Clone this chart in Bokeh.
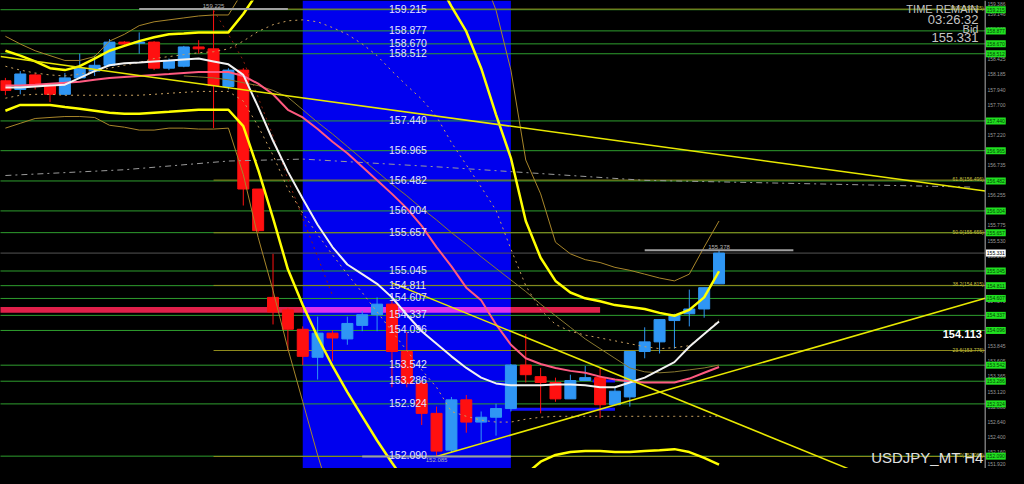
from bokeh.plotting import figure
from bokeh.models import Range1d, BoxAnnotation, Span
from bokeh.embed import file_html
from bokeh.resources import INLINE
from bokeh.core.properties import value

nan = float("nan")

# ---------------- data ----------------
bars = list(range(49))
opens = [158.081, 157.942, 158.174, 158.004, 157.865, 158.127, 158.235, 158.328, 158.698, 158.680,
         158.698, 158.282, 158.313, 158.621, 158.590, 157.989, 158.251, 156.353, 154.624, 154.424,
         154.115, 153.668, 154.053, 153.961, 154.177, 154.347, 154.516, 153.760, 153.251, 152.773,
         152.186, 152.989, 152.634, 152.711, 152.850, 153.544, 153.359, 153.266, 153.004, 153.297,
         153.343, 152.911, 153.035, 153.760, 153.914, 154.254, 154.362, 154.439, 154.840]
highs = [158.127, 158.235, 158.205, 158.035, 158.205, 158.513, 158.482, 158.745, 158.714, 158.853,
         158.714, 158.436, 158.637, 158.729, 159.225, 158.282, 158.282, 156.353, 155.319, 154.455,
         154.161, 154.316, 154.100, 154.316, 154.408, 154.624, 154.578, 154.069, 153.297, 152.881,
         153.035, 153.066, 152.803, 152.927, 153.560, 154.038, 153.498, 153.343, 153.390, 153.529,
         153.498, 153.189, 153.760, 154.146, 154.269, 154.362, 154.748, 154.779, 155.378]
lows = [157.850, 157.865, 157.942, 157.742, 157.850, 158.112, 158.158, 158.313, 158.652, 158.513,
        158.251, 158.251, 158.297, 158.513, 157.325, 157.942, 156.090, 155.658, 154.192, 153.776,
        153.544, 153.313, 153.606, 153.868, 154.084, 154.084, 153.189, 153.189, 152.587, 152.085,
        152.150, 152.464, 152.310, 152.418, 152.803, 153.266, 152.773, 152.958, 153.004, 153.297,
        152.695, 152.911, 152.881, 153.652, 153.729, 153.806, 154.161, 154.300, 154.840]
closes = [157.927, 158.189, 157.989, 157.865, 158.127, 158.282, 158.328, 158.698, 158.668, 158.698,
          158.282, 158.405, 158.621, 158.590, 158.004, 158.251, 156.353, 155.689, 154.393, 154.115,
          153.683, 154.053, 153.976, 154.208, 154.347, 154.516, 153.760, 153.251, 152.773, 152.171,
          152.989, 152.634, 152.711, 152.850, 153.544, 153.390, 153.266, 153.004, 153.297, 153.343,
          152.911, 153.127, 153.760, 153.914, 154.269, 154.347, 154.439, 154.779, 155.331]

bb_upper2 = [158.560, 158.482, 158.390, 158.282, 158.251, 158.313, 158.436, 158.560, 158.637, 158.714,
             158.776, 158.822, 158.837, 158.853, 158.853, 158.853, 159.146, 159.500] + [nan] * 11 + \
            [159.700, 159.269, 158.868, 158.282, 157.541, 156.847, 155.843, 155.257, 154.887, 154.702,
             154.609, 154.563, 154.501, 154.470, 154.439, 154.377, 154.331, 154.424, 154.624, 155.041]
bb_lower2 = [157.603, 157.695, 157.695, 157.695, 157.664, 157.634, 157.603, 157.572, 157.556, 157.556,
             157.572, 157.587, 157.603, 157.618, 157.618, 157.618, 157.356, 156.661, 155.890, 155.072,
             154.501, 153.992, 153.529, 153.112, 152.726, 152.340, 151.985, 151.646] + [nan] * 6 + \
            [151.492, 151.800, 152.001, 152.109, 152.155, 152.171, 152.171, 152.155, 152.155, 152.171,
             152.186, 152.202, 152.155, 152.063, 151.955]
bb_upper3 = [158.791, 158.668, 158.560, 158.482, 158.405, 158.405, 158.467, 158.714, 158.822, 158.961,
             159.022, 159.053, 159.084, 159.115, 159.131, 159.131, 159.516] + [nan] * 15 + \
            [159.825, 159.208, 158.251, 156.816, 156.276, 155.504, 155.319, 155.226, 155.180, 155.103,
             155.056, 154.995, 154.933, 154.887, 154.995, 155.427, 155.843]
bb_lower3 = [157.325, 157.402, 157.479, 157.495, 157.510, 157.510, 157.495, 157.371, 157.340, 157.294,
             157.294, 157.325, 157.325, 157.310, 157.310, 157.325, 156.584, 155.581, 154.732, 153.806,
             152.958, 152.109, 151.337] + [nan] * 26
bb_mid = [158.004, 158.004, 158.019, 158.035, 158.050, 158.066, 158.097, 158.127, 158.143, 158.158,
          158.174, 158.189, 158.205, 158.220, 158.220, 158.220, 158.158, 158.035, 157.865, 157.618,
          157.495, 157.310, 157.109, 156.924, 156.708, 156.492, 156.276, 156.044, 155.766, 155.427,
          155.118, 154.779, 154.578, 154.192, 153.868, 153.652, 153.560, 153.498, 153.451, 153.421,
          153.359, 153.313, 153.282, 153.266, 153.266, 153.266, 153.328, 153.421, 153.513]
bb_upper1 = [158.313, 158.251, 158.205, 158.174, 158.158, 158.189, 158.235, 158.282, 158.328, 158.374,
             158.436, 158.467, 158.498, 158.529, 158.544, 158.590, 158.714, 158.868, 158.976, 159.038,
             159.053, 159.022, 158.930, 158.822, 158.668, 158.482, 158.235, 158.004, 157.788, 157.510,
             157.094, 156.739, 156.384, 156.013, 155.396, 154.810, 154.424, 154.192, 154.084, 154.022,
             153.976, 153.930, 153.884, 153.837, 153.806, 153.822, 153.853, 154.038, 154.269]
bb_lower1 = [157.803, 157.850, 157.865, 157.865, 157.850, 157.850, 157.850, 157.850, 157.850, 157.850,
             157.865, 157.881, 157.896, 157.911, 157.911, 157.911, 157.757, 157.356, 156.893, 156.353,
             155.967, 155.627, 155.303, 154.995, 154.701, 154.393, 154.084, 153.776, 153.467, 153.189,
             152.803, 152.726, 152.665, 152.634, 152.634, 152.680, 152.711, 152.726, 152.726, 152.726,
             152.726, 152.726, 152.726, 152.726, 152.726, 152.726, 152.726, 152.726, 152.726]
ma_fast = [157.973, 157.973, 157.989, 158.004, 158.019, 158.127, 158.235, 158.328, 158.359, 158.374,
           158.390, 158.405, 158.421, 158.436, 158.390, 158.343, 158.174, 157.664, 157.124, 156.631,
           156.198, 155.782, 155.427, 155.149, 154.995, 154.840, 154.624, 154.347, 154.084, 153.884,
           153.683, 153.498, 153.343, 153.251, 153.220, 153.220, 153.220, 153.235, 153.235, 153.220,
           153.189, 153.189, 153.266, 153.343, 153.467, 153.590, 153.837, 154.038, 154.239]
ma_slow = [nan] * 12 + \
          [158.158, 158.143, 158.127, 158.097, 158.050, 158.004, 157.927, 157.819,
           157.618, 157.418, 157.232, 157.032, 156.831, 156.631, 156.430, 156.245, 156.044, 155.859,
           155.658, 155.473, 155.272, 155.087, 154.902, 154.717, 154.516, 154.331, 154.146, 153.961,
           153.806, 153.652, 153.498, 153.436, 153.420, 153.436, 153.467, 153.498, 153.544]
red_x = [14, 15, 16, 17, 18, 19, 20, 21, 22]
red_y = [159.208, 158.822, 158.405, 157.819, 157.202, 156.507, 155.890, 155.272, 154.655]
long_ma_x = [0, 8, 15, 20, 29, 34, 43, 65]
long_ma_y = [156.569, 156.661, 156.800, 156.831, 156.708, 156.631, 156.492, 156.384]

trend1_x = [-0.33, 65.9]
trend1_y = [158.467, 156.322]
trend2_x = [26, 60]
trend2_y = [154.856, 151.569]
trend3_x = [29, 65.9]
trend3_y = [152.085, 154.609]

levels = [159.215, 158.877, 158.670, 158.512, 157.440, 156.965, 156.482, 156.004, 155.657,
          155.045, 154.811, 154.607, 154.337, 154.096, 153.542, 153.286, 152.924, 152.090]
fib_pct = ["100.0", "61.8", "50.0", "38.2", "23.6", "0.0"]
fib_val = [159.225, 156.496, 155.655, 154.815, 153.776, 152.085]
scale_ticks = [159.386, 159.146, 158.905, 158.665, 158.425, 158.185, 157.940, 157.700, 157.460,
               157.220, 156.980, 156.735, 156.495, 156.255, 156.015, 155.775, 155.530, 155.290,
               155.050, 154.810, 154.570, 154.330, 154.085, 153.845, 153.605, 153.365, 153.120,
               152.880, 152.640, 152.400, 152.160, 151.920]

zone_start, zone_end = 20, 34
band_lo, band_hi, band_end = 154.378, 154.470, 40
box_lines_y = [152.84, 153.29]
box_lines_x0 = [34, 39.5]
box_lines_x1 = [41, 41]
marker_bar = [14, 29, 48]
marker_price = [159.225, 152.085, 155.378]
bid = 155.331
info_price = "154.113"

# ---------------- figure ----------------
X0, X1 = -0.33, 67.47
Y0, Y1 = 151.893, 159.362
SEP = 65.9
EDGE = 0.07
FONT = value("Liberation Sans")

p = figure(width=1008, height=468, x_range=Range1d(X0, X1), y_range=Range1d(Y0, Y1),
           output_backend="svg", toolbar_location=None, x_axis_location=None, y_axis_location=None,
           background_fill_color="black", border_fill_color="black", min_border=0,
           outline_line_color=None)
p.grid.visible = False

p.add_layout(BoxAnnotation(left=zone_start, right=zone_end, fill_color="#0000ee", fill_alpha=1.0,
                           line_color=None, level="underlay"))

# horizontal band
p.quad(left=[X0 - 1, zone_start, zone_end], right=[zone_start, zone_end, band_end],
       bottom=[band_lo] * 3, top=[band_hi] * 3,
       fill_color=["#e0204a", "#dd33ee", "#e0204a"], line_color=None)

# bid line
p.segment(x0=[X0 - 1], x1=[SEP], y0=[bid], y1=[bid], line_color="#555555", line_width=1)

# level lines
p.segment(x0=[X0 - 1] * len(levels), x1=[SEP] * len(levels), y0=levels, y1=levels,
          line_color="#2e9e2e", line_width=1)
p.segment(x0=[14] * len(fib_val), x1=[SEP] * len(fib_val), y0=fib_val, y1=fib_val,
          line_color="#8f8a1c", line_width=1)

# blue box lines
p.segment(x0=box_lines_x0, x1=box_lines_x1, y0=box_lines_y, y1=box_lines_y,
          line_color="#1010ff", line_width=3)

# candles
up = [c >= o for o, c in zip(opens, closes)]
cols = ["#2f96f4" if u else "#ff1010" for u in up]
p.segment(x0=bars, x1=bars, y0=lows, y1=highs, line_color=cols, line_width=1)
p.vbar(x=bars, width=0.74, top=[max(o, c) for o, c in zip(opens, closes)],
       bottom=[min(o, c) for o, c in zip(opens, closes)], fill_color=cols, line_color=cols,
       line_width=1)

# indicators
p.line(long_ma_x, long_ma_y, line_color="#9a9a9a", line_width=1, line_dash="dashdot")
p.line(red_x, red_y, line_color="#8a2010", line_width=1, line_dash="dotted")
p.line(bars, ma_slow, line_color="#8a7a30", line_width=1)
p.line(bars, bb_upper1, line_color="#c8a060", line_width=1, line_dash="dotted")
p.line(bars, bb_lower1, line_color="#c8a060", line_width=1, line_dash="dotted")
p.line(bars, bb_upper3, line_color="#a8862a", line_width=1)
p.line(bars, bb_lower3, line_color="#a8862a", line_width=1)
p.line(bars, bb_mid, line_color="#ff5a80", line_width=2)
p.line(bars, ma_fast, line_color="#f2f2f2", line_width=2)
p.line(bars, bb_upper2, line_color="#ffff00", line_width=2.5)
p.line(bars, bb_lower2, line_color="#ffff00", line_width=2.5)

for tx, ty in ((trend1_x, trend1_y), (trend2_x, trend2_y), (trend3_x, trend3_y)):
    p.line(tx, ty, line_color="#e8e800", line_width=1.5)

# high / low markers
p.segment(x0=[b - 5 for b in marker_bar], x1=[b + 5 for b in marker_bar],
          y0=marker_price, y1=marker_price, line_color="#a0a0a0", line_width=2)
p.text(x=marker_bar, y=marker_price, text=[f"{v:.3f}" for v in marker_price],
       text_font=FONT, text_font_size="6px", text_color="#b0b0b0", text_align="center",
       text_baseline=["bottom", "top", "bottom"], y_offset=[-1, 2, -1])

# level labels in the zone
p.text(x=[25.8] * len(levels), y=levels, text=[f"{v:.3f}" for v in levels], text_font=FONT,
       text_font_size="10.5px", text_color="#e4e4ff", text_align="left",
       text_baseline="alphabetic", y_offset=-1)

# fib labels
p.text(x=[SEP - 0.1] * len(fib_val), y=fib_val,
       text=[f"{a}({v:.3f})" for a, v in zip(fib_pct, fib_val)], text_font=FONT,
       text_font_size="5px", text_color="#c8c040", text_align="right",
       text_baseline="alphabetic", y_offset=-1)

# price scale strip
p.add_layout(Span(location=SEP, dimension="height", line_color="#b0b0b0", line_width=1))
tick_y = [min(max(t, Y0), Y1) for t in scale_ticks]
tick_base = ["top" if t >= Y1 - EDGE else ("bottom" if t <= Y0 + EDGE else "middle")
             for t in scale_ticks]
p.text(x=[66.05] * len(scale_ticks), y=tick_y, text=[f"{t:.3f}" for t in scale_ticks],
       text_font=FONT, text_font_size="5px", text_color="#9a9a9a", text_align="left",
       text_baseline=tick_base, y_offset=[1 if b == "top" else (-1 if b == "bottom" else 0)
                                          for b in tick_base])
p.rect(x=[66.62] * len(levels), y=levels, width=1.33, height=7, height_units="screen",
       fill_color="#20e020", line_color=None)
p.text(x=[66.62] * len(levels), y=levels, text=[f"{v:.3f}" for v in levels], text_font=FONT,
       text_font_size="5px", text_color="#064006", text_align="center", text_baseline="middle")
p.rect(x=[66.62], y=[bid], width=1.33, height=7, height_units="screen",
       fill_color="#ffffff", line_color=None)
p.text(x=[66.62], y=[bid], text=[f"{bid:.3f}"], text_font=FONT, text_font_size="5px",
       text_color="#000000", text_align="center", text_baseline="middle")

# corner texts
p.text(x=[65.45] * 4, y=[159.223, 159.061, 158.914, 158.776],
       text=["TIME REMAIN", "03:26:32", "Bid", f"{bid:.3f}"], text_font=FONT,
       text_font_size=["11px", "13px", "11px", "13px"], text_color="#c4c4c4",
       text_align="right", text_baseline="middle")
p.text(x=[65.68], y=[154.038], text=[info_price], text_font=FONT, text_font_size="11px",
       text_font_style="bold", text_color="#ffffff", text_align="right", text_baseline="middle")
p.text(x=[65.8], y=[152.063], text=["USDJPY_MT H4"], text_font=FONT, text_font_size="15px",
       text_color="#e0e0e0", text_align="right", text_baseline="middle")

html = file_html(p, INLINE)
html = html.replace("<head>", "<head><style>html,body{background:#000;}</style>", 1)
open("out.html", "w").write(html)
